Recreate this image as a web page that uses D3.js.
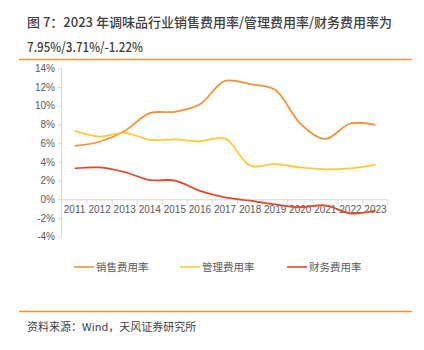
<!DOCTYPE html>
<html><head><meta charset="utf-8">
<script src="https://cdn.jsdelivr.net/npm/d3@7"></script>
<style>
body{margin:0;background:#fff;}
svg{display:block;font-family:"Noto Sans CJK SC","Noto Sans",sans-serif;}
</style></head>
<body><svg id="c" width="424" height="350"></svg>
<script>
const years = ["2011","2012","2013","2014","2015","2016","2017","2018","2019","2020","2021","2022","2023"];
const salesRate = [5.7,6.15,7.3,9.2,9.35,10.15,12.65,12.3,11.7,8.1,6.45,8.1,7.95];
const adminRate = [7.3,6.7,7.1,6.35,6.4,6.2,6.5,3.6,3.75,3.4,3.2,3.3,3.71];
const financeRate = [3.3,3.4,2.9,2.05,2.0,0.9,0.2,-0.15,-0.55,-0.85,-0.65,-1.5,-1.22];
const seriesNames = ["销售费用率","管理费用率","财务费用率"];
const seriesColors = ["#F39237","#FFC83D","#E0492A"];
const yTicks = [-4,-2,0,2,4,6,8,10,12,14];

const svg = d3.select("#c");

svg.append("text").attr("x",27).attr("y",27).attr("font-size",13).attr("font-weight",500)
  .attr("fill","#404040").text("图 7：2023 年调味品行业销售费用率/管理费用率/财务费用率为");
svg.append("text").attr("x",27).attr("y",52).attr("font-size",13).attr("font-weight",500)
  .attr("fill","#404040").attr("textLength",116).attr("lengthAdjust","spacingAndGlyphs")
  .text("7.95%/3.71%/-1.22%");
svg.append("line").attr("x1",19).attr("x2",412).attr("y1",59.5).attr("y2",59.5)
  .attr("stroke","#F39237").attr("stroke-width",1.5);

const x = d3.scaleBand().domain(years).range([62,388]);
const y = d3.scaleLinear().domain([-4,14]).range([236.7,68.3]);

// y axis
const ya = svg.append("g").attr("transform","translate(62,0)")
  .call(d3.axisLeft(y).tickValues(yTicks).tickFormat(d=>d+"%").tickSize(4).tickPadding(3));
ya.select(".domain").attr("stroke","#d9d9d9").attr("d","M-0.5,"+y(-4)+"V"+y(14));
ya.selectAll(".tick line").attr("stroke","#d9d9d9");
ya.selectAll("text").attr("fill","#595959").attr("font-size",10).attr("font-family","Liberation Sans, Arial, sans-serif");

// x axis
const xa = svg.append("g").attr("transform","translate(0,"+y(0)+")")
  .call(d3.axisBottom(x).tickSize(0).tickPadding(7));
xa.select(".domain").attr("stroke","#d9d9d9");
xa.selectAll("text").attr("fill","#595959").attr("font-size",10).attr("font-family","Liberation Sans, Arial, sans-serif");
xa.selectAll(".bd").data(years.concat(["end"])).enter().append("line")
  .attr("x1",(d,i)=>i<years.length? x(d):x.range()[1])
  .attr("x2",(d,i)=>i<years.length? x(d):x.range()[1])
  .attr("y1",0).attr("y2",5).attr("stroke","#d9d9d9");

const line = d3.line().x((d,i)=>x(years[i])+x.bandwidth()/2).y(d=>y(d)).curve(d3.curveCatmullRom.alpha(0.5));
[salesRate,adminRate,financeRate].forEach((s,k)=>{
  svg.append("path").attr("d",line(s)).attr("fill","none").attr("stroke",seriesColors[k]).attr("stroke-width",1.8);
});

// legend
const lx = [74,180,287];
seriesNames.forEach((n,k)=>{
  svg.append("line").attr("x1",lx[k]).attr("x2",lx[k]+20).attr("y1",267).attr("y2",267)
    .attr("stroke",seriesColors[k]).attr("stroke-width",1.6);
  svg.append("text").attr("x",lx[k]+22).attr("y",271).attr("font-size",10.5).attr("fill","#595959").text(n);
});

svg.append("line").attr("x1",19).attr("x2",412).attr("y1",311.5).attr("y2",311.5)
  .attr("stroke","#F39237").attr("stroke-width",1.5);
svg.append("text").attr("x",27).attr("y",331).attr("font-size",11).attr("fill","#3f3f3f").text("资料来源：Wind，天风证券研究所");
</script></body></html>
